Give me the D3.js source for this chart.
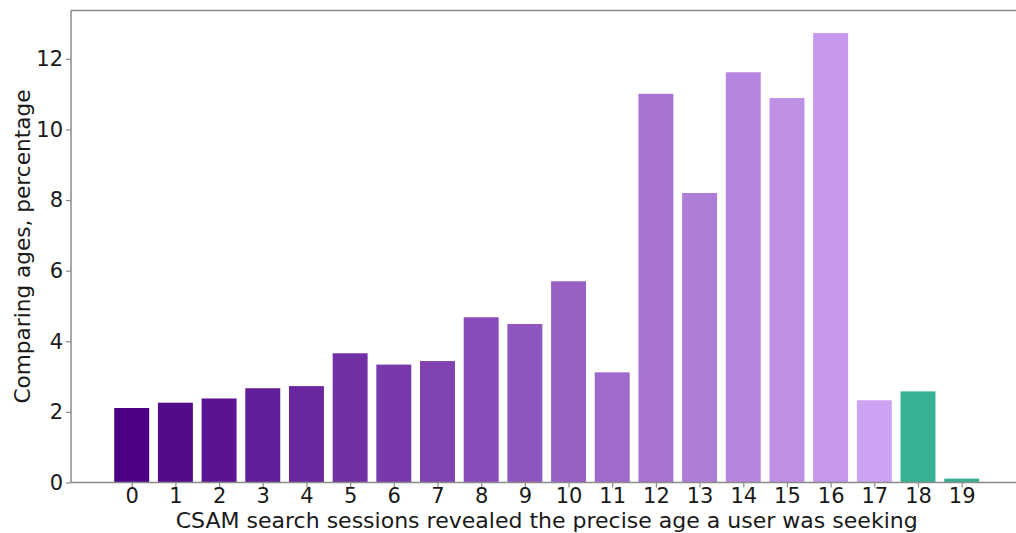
<!DOCTYPE html>
<html>
<head>
<meta charset="utf-8">
<script src="https://cdn.jsdelivr.net/npm/d3@7"></script>
<style>
  html, body { margin: 0; padding: 0; background: #fff; }
  svg { display: block; }
  text { font-family: "DejaVu Sans", sans-serif; fill: #1a1a1a; }
</style>
</head>
<body>
<svg id="chart" width="1016" height="533"></svg>
<script>
// ---- data ----
const ages = [0,1,2,3,4,5,6,7,8,9,10,11,12,13,14,15,16,17,18,19];
const percentages = [2.11,2.26,2.38,2.67,2.73,3.66,3.34,3.44,4.68,4.49,5.70,3.12,11.01,8.20,11.62,10.89,12.73,2.33,2.58,0.11];
const groups = ["minor","minor","minor","minor","minor","minor","minor","minor","minor","minor","minor","minor","minor","minor","minor","minor","minor","minor","adult","adult"];
const yTicks = [0,2,4,6,8,10,12];
const xLabel = "CSAM search sessions revealed the precise age a user was seeking";
const yLabel = "Comparing ages, percentage";

// ---- layout ----
const plotLeft = 71, plotRight = 1022.4, plotTop = 10.6, plotBottom = 482.5;
const fontSize = 21;
const svg = d3.select("#chart");

const x = d3.scaleLinear().domain([-1.39, 20.39]).range([plotLeft, plotRight]);
const yMax = d3.max(percentages) * 1.05;
const y = d3.scaleLinear().domain([0, yMax]).range([plotBottom, plotTop]);

const purple = d3.interpolateRgb("#4b0085", "#cea2f2");
const color = (d, i) => groups[i] === "adult" ? "#36b194" : purple(i / 17);

// bars
svg.append("g").selectAll("rect")
  .data(percentages)
  .join("rect")
  .attr("x", (d, i) => x(ages[i] - 0.4))
  .attr("width", (d, i) => x(ages[i] + 0.4) - x(ages[i] - 0.4))
  .attr("y", d => y(d))
  .attr("height", d => y(0) - y(d))
  .attr("fill", color);

// axes
const spine = "#8a8a8a";
const xAxis = svg.append("g").attr("transform", `translate(0,${plotBottom})`)
  .call(d3.axisBottom(x).tickValues(ages).tickFormat(d3.format("d")).tickSize(5).tickPadding(1));
const yAxis = svg.append("g").attr("transform", `translate(${plotLeft},0)`)
  .call(d3.axisLeft(y).tickValues(yTicks).tickFormat(d3.format("d")).tickSize(5).tickPadding(3));
[xAxis, yAxis].forEach(g => {
  g.select(".domain").remove();
  g.selectAll(".tick line").attr("stroke", spine).attr("stroke-width", 1.2);
  g.selectAll(".tick text").attr("font-size", fontSize).attr("fill", "#1a1a1a")
    .attr("font-family", "DejaVu Sans, sans-serif");
});

// spines
const spines = [
  [plotLeft, plotTop, plotRight, plotTop],
  [plotLeft, plotBottom, plotRight, plotBottom],
  [plotLeft, plotTop, plotLeft, plotBottom],
  [plotRight, plotTop, plotRight, plotBottom]
];
svg.append("g").selectAll("line").data(spines).join("line")
  .attr("x1", d => d[0]).attr("y1", d => d[1]).attr("x2", d => d[2]).attr("y2", d => d[3])
  .attr("stroke", spine).attr("stroke-width", 1.5);

// labels
svg.append("text")
  .attr("x", (plotLeft + plotRight) / 2).attr("y", 528.2)
  .attr("text-anchor", "middle").attr("font-size", fontSize)
  .attr("textLength", 742).attr("lengthAdjust", "spacingAndGlyphs")
  .text(xLabel);
svg.append("text")
  .attr("transform", `translate(30,${(plotTop + plotBottom) / 2}) rotate(-90)`)
  .attr("text-anchor", "middle").attr("font-size", fontSize)
  .attr("textLength", 314).attr("lengthAdjust", "spacingAndGlyphs")
  .text(yLabel);
</script>
</body>
</html>
